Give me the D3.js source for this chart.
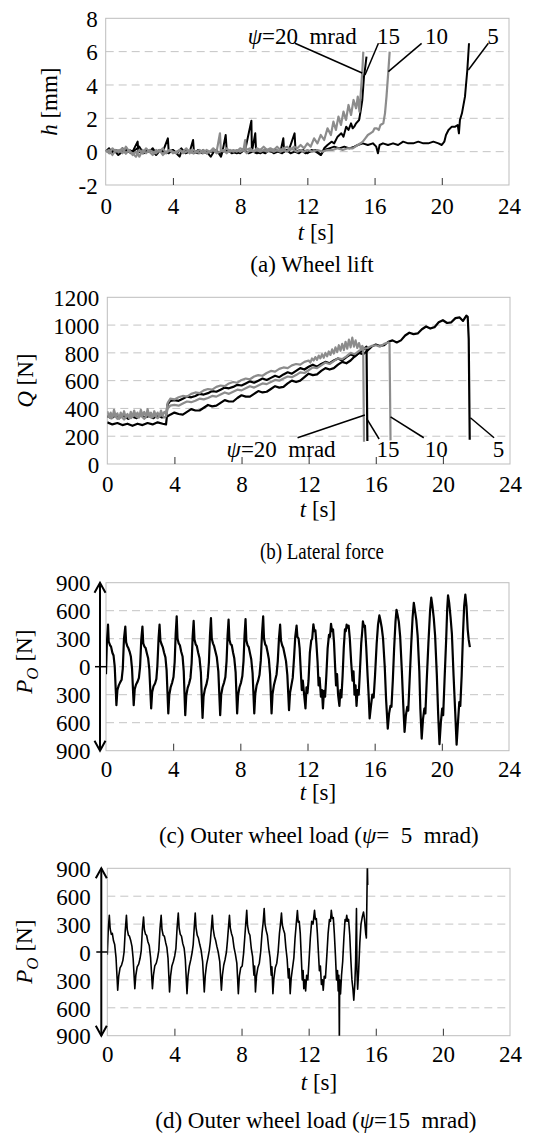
<!DOCTYPE html>
<html><head><meta charset="utf-8">
<script src="https://cdn.jsdelivr.net/npm/d3@7"></script>
<style>
body{margin:0;background:#fff}
svg text{font-family:"Liberation Serif",Tinos,"Times New Roman",Times,"DejaVu Serif",serif;font-size:23px;fill:#000}
</style></head><body>
<svg id="c" width="541" height="1133" font-family="Liberation Serif"></svg>
<script>
// ---------- DATA ----------
const xTicks = [0,4,8,12,16,20,24];
const innerTicks = [4,8,12,16,20];
const aTicks = [-2,0,2,4,6,8];
const bTicks = [0,200,400,600,800,1000,1200];
const pTicks = [-900,-600,-300,0,300,600,900];
const pTickLabels = ["900","600","300","0","300","600","900"];

// (a) wheel lift h [mm]
const lift5 = [[0,0.1],[0.25,-0.1],[0.5,0.1],[0.75,-0.2],[1.0,0],[1.25,0.1],[1.5,-0.1],[1.75,0.1],[2.0,0.3],[2.25,-0.1],[2.5,0],[2.75,0.1],[3.0,-0.2],[3.25,0.1],[3.5,0],[3.75,-0.1],[4.0,0.1],[4.25,-0.1],[4.5,0.2],[4.75,-0.1],[5.0,0],[5.25,-0.1],[5.5,0.1],[5.75,-0.1],[6.0,0],[6.25,-0.3],[6.5,0.1],[6.75,-0.1],[7.0,0],[7.25,0.1],[7.5,-0.1],[7.75,0],[8.0,-0.1],[8.25,0.1],[8.5,-0.1],[8.75,0],[9.0,-0.1],[9.25,0],[9.5,-0.1],[9.75,0.1],[10.0,-0.1],[10.25,0],[10.5,-0.1],[10.75,0.1],[11.0,-0.1],[11.25,0],[11.5,-0.1],[11.75,0.1],[12.0,-0.1],[12.25,0.1],[12.5,0],[12.8,-0.2],[13.0,0.1],[13.3,0.2],[13.6,0.3],[13.9,0.2],[14.2,0.3],[14.5,0.2],[14.8,0.3],[15.0,0.4],[15.3,0.5],[15.6,0.4],[15.9,0.5],[16.1,0.3],[16.2,-0.1],[16.3,0.4],[16.5,0.5],[16.8,0.4],[17.1,0.5],[17.4,0.4],[17.7,0.6],[18.0,0.5],[18.3,0.5],[18.6,0.6],[18.9,0.5],[19.2,0.5],[19.5,0.6],[19.8,0.5],[20.0,0.4],[20.15,0.6],[20.25,1.0],[20.4,1.3],[20.6,1.5],[20.8,1.5],[20.95,1.6],[21.02,1.1],[21.08,1.9],[21.2,2.3],[21.38,3.3],[21.52,4.9],[21.62,6.5]];
const lift15 = [[0,0],[0.2,0.2],[0.4,-0.1],[0.6,0.1],[0.8,0],[1.0,0.2],[1.2,-0.1],[1.4,0.1],[1.6,0],[1.9,0.6],[1.95,0],[2.2,-0.1],[2.4,0.1],[2.6,0],[2.8,0.2],[3.0,-0.1],[3.2,0.1],[3.4,0],[3.7,0.8],[3.75,0],[4.0,0.1],[4.2,-0.1],[4.4,-0.3],[4.5,0],[4.8,0.1],[5.0,0],[5.2,0.7],[5.25,0],[5.5,-0.1],[5.8,0.1],[6.0,-0.1],[6.3,0],[6.6,0.1],[6.86,-0.3],[6.95,0],[7.14,1.0],[7.2,0.1],[7.5,0],[7.8,-0.1],[8.0,0],[8.3,0.1],[8.67,1.86],[8.7,0],[8.9,1.1],[8.95,0],[9.2,-0.1],[9.5,0.1],[9.8,0],[10.1,0.1],[10.4,0],[10.57,0.8],[10.62,0],[10.9,0.1],[11.24,1.1],[11.3,0],[11.6,0.1],[11.9,-0.1],[12.2,0],[12.5,0.1],[12.8,-0.2],[13.0,0.2],[13.2,0.4],[13.44,0.6],[13.6,0.5],[13.8,0.9],[14.02,1.1],[14.15,0.9],[14.31,1.5],[14.45,1.3],[14.6,1.7],[14.7,1.4],[14.79,1.5],[14.9,1.7],[15.08,1.9],[15.18,2.5],[15.27,3.1],[15.37,4.5],[15.45,5.1],[15.52,5.7]];
const lift10 = [[0,0],[0.2,0.1],[0.4,-0.2],[0.6,0.1],[0.8,0],[1.0,0.2],[1.2,-0.1],[1.4,0.1],[1.6,-0.2],[1.8,0],[2.0,-0.3],[2.2,0.1],[2.4,-0.1],[2.6,0.1],[2.8,0],[3.0,-0.1],[3.2,0.1],[3.4,-0.2],[3.6,0],[3.8,0.1],[4.0,-0.1],[4.2,0],[4.4,0.1],[4.6,-0.1],[4.8,0],[5.0,0.1],[5.2,-0.1],[5.4,0],[5.6,-0.1],[5.8,0.1],[6.0,-0.1],[6.2,0],[6.4,0.1],[6.6,-0.1],[6.8,0],[7.0,0.1],[7.2,-0.1],[7.4,0.1],[7.6,0],[7.8,0.1],[8.0,0],[8.2,0.1],[8.4,-0.1],[8.6,0.1],[8.8,0],[9.0,0.1],[9.2,0],[9.4,0.1],[9.6,0],[9.8,0.1],[10.0,0],[10.2,0.1],[10.4,0],[10.6,0.1],[10.8,0],[11.0,0.2],[11.2,0.1],[11.4,0],[11.6,0.1],[11.8,0],[12.0,0.1],[12.3,0],[12.6,0.1],[12.9,0],[13.2,0.1],[13.5,0.1],[13.8,0.2],[14.1,0.1],[14.4,0.2],[14.7,0.2],[15.0,0.4],[15.17,0.5],[15.3,0.6],[15.45,0.8],[15.6,1.0],[15.75,1.1],[15.9,1.2],[16.0,1.4],[16.13,1.4],[16.25,1.3],[16.35,1.6],[16.52,1.7],[16.62,2.3],[16.71,3.3],[16.81,4.7],[16.9,6.0]];
const lift20 = [[0,0.1],[0.2,-0.1],[0.4,0.2],[0.6,0],[0.8,0.1],[1.0,-0.1],[1.2,0.3],[1.4,0],[1.6,-0.1],[1.8,-0.3],[2.0,0.1],[2.2,-0.1],[2.4,0.2],[2.6,0],[2.8,-0.2],[3.0,0.1],[3.2,0],[3.4,0.2],[3.6,-0.1],[3.8,0.1],[4.0,0],[4.2,-0.1],[4.4,0.1],[4.6,0],[4.8,0.2],[5.0,-0.1],[5.2,0.1],[5.4,0],[5.6,0.1],[5.8,-0.1],[6.0,0.1],[6.2,0],[6.4,0.2],[6.6,0],[6.8,1.1],[6.85,0.1],[7.0,0],[7.2,0.2],[7.4,0],[7.6,0.1],[7.8,0],[8.0,0.2],[8.2,0.1],[8.3,0.7],[8.35,0.1],[8.6,0.2],[8.8,0],[9.0,0.2],[9.2,0.1],[9.4,0.3],[9.6,0.1],[9.8,0.2],[10.0,0.1],[10.2,0.3],[10.4,0.1],[10.6,0.2],[10.8,0.3],[11.0,0.1],[11.2,0.3],[11.4,0.2],[11.6,0.4],[11.8,0.2],[12.0,0.5],[12.2,0.3],[12.4,0.8],[12.6,0.5],[12.8,1.0],[13.0,0.7],[13.2,1.4],[13.4,1.0],[13.55,1.8],[13.7,1.3],[13.85,2.1],[14.0,1.6],[14.15,2.4],[14.3,1.9],[14.45,2.8],[14.6,2.2],[14.75,3.1],[14.9,2.6],[15.0,3.3],[15.1,2.4],[15.2,3.8],[15.28,5.0],[15.33,6.0]];

// (b) lateral force Q [N]
const lat5 = [[0,300],[0.3,285],[0.6,295],[0.9,280],[1.2,290],[1.5,275],[1.8,290],[2.1,280],[2.4,295],[2.7,285],[3.0,300],[3.3,290],[3.5,285],[3.55,340],[3.75,355],[4.0,370],[4.25,360],[4.5,355],[4.75,375],[5.0,395],[5.25,385],[5.5,385],[5.75,405],[6.0,425],[6.25,415],[6.5,420],[6.75,440],[7.0,460],[7.25,450],[7.5,450],[7.75,475],[8.0,495],[8.25,485],[8.5,485],[8.75,505],[9.0,525],[9.25,515],[9.5,520],[9.75,540],[10.0,560],[10.25,550],[10.5,555],[10.75,580],[11.0,600],[11.25,590],[11.5,600],[11.75,625],[12.0,650],[12.25,640],[12.5,645],[12.75,670],[13.0,690],[13.25,680],[13.5,690],[13.75,715],[14.0,735],[14.25,725],[14.5,745],[14.75,775],[15.0,800],[15.25,790],[15.5,815],[15.75,845],[16.0,860],[16.25,850],[16.5,855],[16.75,880],[17.0,890],[17.25,875],[17.5,890],[17.75,925],[18.0,945],[18.25,935],[18.5,940],[18.75,970],[19.0,990],[19.25,975],[19.5,985],[19.75,1020],[20.0,1035],[20.25,1015],[20.5,1020],[20.75,1050],[21.0,1055],[21.2,1030],[21.4,1068],[21.48,1060],[21.54,900],[21.6,175]];
const lat15 = [[0,345],[0.25,330],[0.5,350],[0.75,335],[1.0,345],[1.25,325],[1.5,340],[1.75,330],[2.0,350],[2.25,335],[2.5,345],[2.75,330],[3.0,350],[3.25,335],[3.5,340],[3.6,430],[3.75,455],[4.0,460],[4.25,455],[4.5,470],[4.75,485],[5.0,480],[5.25,490],[5.5,505],[5.75,500],[6.0,510],[6.25,525],[6.5,520],[6.75,535],[7.0,550],[7.25,545],[7.5,555],[7.75,570],[8.0,565],[8.25,580],[8.5,595],[8.75,585],[9.0,600],[9.25,615],[9.5,605],[9.75,620],[10.0,635],[10.25,625],[10.5,645],[10.75,660],[11.0,650],[11.25,670],[11.5,690],[11.75,680],[12.0,700],[12.25,715],[12.5,700],[12.75,720],[13.0,735],[13.25,725],[13.5,745],[13.75,760],[14.0,745],[14.25,770],[14.5,790],[14.75,775],[15.0,800],[15.2,815],[15.4,840],[15.45,845],[15.5,165]];
const lat10 = [[0,350],[0.2,330],[0.4,355],[0.6,325],[0.8,345],[1.0,320],[1.2,350],[1.4,330],[1.6,355],[1.8,335],[2.0,350],[2.2,325],[2.4,355],[2.6,335],[2.8,350],[3.0,330],[3.2,355],[3.4,335],[3.5,345],[3.6,400],[3.75,420],[4.0,425],[4.25,420],[4.5,435],[4.75,450],[5.0,445],[5.25,455],[5.5,470],[5.75,465],[6.0,475],[6.25,490],[6.5,485],[6.75,500],[7.0,515],[7.25,505],[7.5,520],[7.75,535],[8.0,530],[8.25,545],[8.5,560],[8.75,550],[9.0,565],[9.25,580],[9.5,575],[9.75,590],[10.0,605],[10.25,600],[10.5,615],[10.75,630],[11.0,625],[11.25,640],[11.5,660],[11.75,655],[12.0,675],[12.25,695],[12.5,690],[12.75,710],[13.0,730],[13.25,720],[13.5,740],[13.75,760],[14.0,755],[14.25,775],[14.5,800],[14.75,790],[15.0,815],[15.25,830],[15.5,835],[15.75,850],[16.0,855],[16.25,845],[16.5,865],[16.75,875],[16.82,870],[16.88,170]];
const lat20 = [[0,380],[0.1,340],[0.2,370],[0.3,330],[0.4,390],[0.5,345],[0.6,365],[0.7,325],[0.8,370],[0.9,340],[1.0,380],[1.1,335],[1.2,360],[1.3,330],[1.4,375],[1.5,340],[1.6,385],[1.7,345],[1.8,370],[1.9,335],[2.0,390],[2.1,350],[2.2,375],[2.3,340],[2.4,395],[2.5,350],[2.6,370],[2.7,335],[2.8,380],[2.9,345],[3.0,370],[3.1,340],[3.2,385],[3.3,350],[3.4,375],[3.5,360],[3.6,440],[3.75,470],[4.0,465],[4.25,480],[4.5,490],[4.75,485],[5.0,505],[5.25,515],[5.5,510],[5.75,530],[6.0,540],[6.25,535],[6.5,555],[6.75,565],[7.0,560],[7.25,580],[7.5,590],[7.75,585],[8.0,605],[8.25,615],[8.5,610],[8.75,630],[9.0,640],[9.25,635],[9.5,655],[9.75,670],[10.0,665],[10.25,685],[10.5,695],[10.75,690],[11.0,710],[11.25,720],[11.5,715],[11.75,735],[12.0,745],[12.1,730],[12.2,760],[12.3,745],[12.4,770],[12.5,750],[12.6,780],[12.7,760],[12.8,790],[12.9,765],[13.0,800],[13.1,775],[13.2,810],[13.3,785],[13.4,825],[13.5,795],[13.6,840],[13.7,805],[13.8,855],[13.9,815],[14.0,865],[14.1,820],[14.2,880],[14.3,830],[14.4,895],[14.5,840],[14.6,910],[14.7,845],[14.8,890],[14.9,835],[15.0,870],[15.1,830],[15.2,850],[15.25,835],[15.3,160]];

// (c) outer wheel load P_O [N], psi = 5 mrad
const load5 = [[0,-80],[0.05,250],
[0.12,450],[0.16,270],[0.24,230],[0.3,215],[0.38,150],[0.45,120],[0.52,0],[0.62,-412],[0.68,-250],[0.76,-200],[0.85,-165],[0.93,-140],[1.0,-20],[1.07,300],
[1.15,430],[1.2,260],[1.27,220],[1.33,200],[1.41,160],[1.48,110],[1.55,-20],[1.65,-412],[1.71,-240],[1.79,-190],[1.88,-160],[1.96,-120],[2.03,0],[2.1,290],
[2.17,430],[2.22,250],[2.29,215],[2.36,200],[2.44,140],[2.51,90],[2.58,-30],[2.69,-448],[2.75,-270],[2.83,-210],[2.92,-180],[3.0,-130],[3.06,10],[3.13,300],
[3.19,450],[3.24,280],[3.31,240],[3.38,210],[3.46,150],[3.54,100],[3.61,-40],[3.71,-500],[3.77,-300],[3.85,-220],[3.94,-170],[4.02,-110],[4.09,50],[4.15,350],
[4.21,540],[4.26,300],[4.33,250],[4.4,230],[4.48,160],[4.56,110],[4.63,-50],[4.72,-519],[4.78,-310],[4.86,-230],[4.95,-180],[5.03,-120],[5.1,40],[5.16,320],
[5.22,490],[5.27,290],[5.34,240],[5.41,220],[5.49,150],[5.57,90],[5.65,-60],[5.75,-548],[5.81,-320],[5.89,-240],[5.98,-190],[6.06,-120],[6.13,50],[6.19,330],
[6.25,520],[6.3,300],[6.37,250],[6.44,220],[6.52,160],[6.6,100],[6.69,-50],[6.8,-519],[6.86,-300],[6.94,-220],[7.03,-170],[7.11,-110],[7.18,60],[7.24,330],
[7.3,505],[7.35,290],[7.42,240],[7.49,230],[7.57,150],[7.64,90],[7.72,-60],[7.81,-501],[7.87,-300],[7.95,-220],[8.04,-170],[8.12,-100],[8.19,60],[8.25,330],
[8.31,510],[8.36,280],[8.43,230],[8.5,210],[8.58,140],[8.65,80],[8.73,-70],[8.83,-501],[8.89,-290],[8.97,-200],[9.06,-150],[9.14,-90],[9.22,70],[9.29,350],
[9.36,540],[9.41,300],[9.48,240],[9.55,220],[9.63,150],[9.7,80],[9.77,-80],[9.86,-501],[9.92,-290],[10.0,-200],[10.08,-140],[10.16,-80],[10.23,60],[10.3,300],
[10.37,450],[10.42,280],[10.49,230],[10.56,200],[10.64,130],[10.72,60],[10.8,-90],[10.9,-466],[10.96,-280],[11.04,-200],[11.12,-120],[11.2,100],[11.27,320],
[11.35,440],[11.4,320],[11.47,300],[11.53,200],[11.6,-50],[11.66,-250],[11.72,-150],[11.8,-300],[11.88,-448],[11.94,-220],[12.0,-280],[12.06,-150],[12.14,150],[12.22,280],[12.28,300],
[12.35,455],[12.41,380],[12.47,390],[12.53,250],[12.6,50],[12.66,-200],[12.72,-120],[12.8,-320],[12.86,-250],[12.92,-448],[12.98,-260],[13.05,-320],[13.12,-100],[13.2,200],[13.28,340],[13.34,320],
[13.4,460],[13.46,380],[13.52,400],[13.58,260],[13.64,20],[13.7,-200],[13.76,-80],[13.82,-300],[13.9,-420],[13.96,-250],[14.02,-330],[14.09,-100],[14.16,200],[14.23,400],[14.28,380],
[14.33,450],[14.39,420],[14.45,440],[14.52,300],[14.6,50],[14.68,-150],[14.74,-50],[14.8,-300],[14.86,-200],[14.92,-420],[14.98,-250],[15.05,-300],[15.12,-50],[15.2,250],[15.26,380],
[15.3,485],[15.36,430],[15.42,440],[15.5,200],[15.58,-100],[15.64,-300],[15.7,-555],[15.78,-420],[15.86,-300],[15.94,-330],[16.02,-100],[16.12,250],[16.2,450],
[16.28,550],[16.34,500],[16.42,420],[16.5,300],[16.6,0],[16.68,-350],[16.78,-663],[16.86,-500],[16.94,-420],[17.0,-430],[17.08,-150],[17.16,200],[17.24,480],
[17.3,610],[17.36,560],[17.44,480],[17.52,320],[17.62,-50],[17.7,-400],[17.78,-699],[17.86,-520],[17.94,-430],[18.0,-470],[18.08,-150],[18.18,250],[18.26,530],
[18.33,685],[18.4,600],[18.48,500],[18.56,330],[18.66,-50],[18.72,-450],[18.8,-770],[18.88,-560],[18.96,-450],[19.02,-500],[19.1,-150],[19.2,250],[19.3,600],
[19.37,740],[19.44,650],[19.52,520],[19.6,330],[19.7,-80],[19.78,-500],[19.86,-830],[19.94,-600],[20.02,-450],[20.08,-520],[20.16,-150],[20.26,300],[20.32,620],
[20.37,765],[20.44,680],[20.52,530],[20.6,350],[20.7,-100],[20.8,-500],[20.88,-835],[20.96,-600],[21.04,-380],[21.1,-420],[21.18,-100],[21.26,350],[21.33,650],
[21.4,772],[21.47,650],[21.54,400],[21.6,290],[21.67,210]];

// (d) outer wheel load P_O [N], psi = 15 mrad
const load15 = [[0,-30],[0.06,250],
[0.12,394],[0.17,250],[0.24,190],[0.3,200],[0.37,120],[0.44,80],[0.52,-60],[0.62,-412],[0.68,-260],[0.76,-170],[0.85,-140],[0.93,-90],[1.0,0],[1.07,230],
[1.14,394],[1.19,240],[1.26,180],[1.32,170],[1.4,120],[1.47,60],[1.54,-70],[1.64,-394],[1.7,-250],[1.78,-160],[1.87,-130],[1.95,-70],[2.02,10],[2.09,240],
[2.16,376],[2.21,240],[2.28,190],[2.34,180],[2.42,110],[2.5,70],[2.58,-60],[2.69,-394],[2.75,-250],[2.83,-150],[2.92,-120],[3.0,-60],[3.07,20],[3.14,250],
[3.21,394],[3.26,240],[3.33,180],[3.4,170],[3.48,100],[3.55,50],[3.62,-70],[3.71,-430],[3.77,-260],[3.85,-150],[3.94,-100],[4.02,-40],[4.09,40],[4.16,260],
[4.23,419],[4.28,260],[4.35,190],[4.42,170],[4.5,90],[4.58,40],[4.65,-80],[4.75,-448],[4.81,-260],[4.89,-150],[4.98,-80],[5.06,0],[5.12,80],[5.18,260],
[5.24,419],[5.29,260],[5.36,180],[5.43,150],[5.51,80],[5.59,20],[5.68,-100],[5.78,-430],[5.84,-250],[5.92,-130],[6.0,-60],[6.08,20],[6.14,110],[6.2,250],
[6.26,394],[6.31,250],[6.38,170],[6.45,130],[6.53,60],[6.61,0],[6.7,-100],[6.8,-412],[6.86,-250],[6.94,-140],[7.02,-80],[7.1,0],[7.16,120],[7.22,260],
[7.28,394],[7.33,260],[7.4,200],[7.47,160],[7.55,50],[7.63,-20],[7.72,-120],[7.81,-448],[7.87,-260],[7.95,-170],[8.04,-150],[8.12,-20],[8.19,150],[8.25,300],
[8.31,448],[8.36,280],[8.43,210],[8.5,180],[8.58,40],[8.66,-50],[8.74,-250],[8.78,-150],[8.83,-430],[8.89,-260],[8.97,-170],[9.06,-120],[9.14,0],[9.22,200],[9.29,320],
[9.35,466],[9.4,300],[9.47,230],[9.54,180],[9.62,40],[9.7,-60],[9.77,-250],[9.81,-160],[9.87,-448],[9.93,-280],[10.01,-170],[10.1,-120],[10.18,0],[10.26,200],[10.32,300],
[10.38,419],[10.43,290],[10.5,240],[10.57,200],[10.64,50],[10.72,-80],[10.79,-280],[10.84,-180],[10.9,-448],[10.96,-280],[11.04,-170],[11.12,-60],[11.19,150],[11.26,300],
[11.33,445],[11.38,320],[11.44,330],[11.5,200],[11.56,-50],[11.62,-300],[11.67,-200],[11.71,-394],[11.77,-300],[11.82,-420],[11.88,-250],[11.95,-300],[12.02,-100],[12.1,150],[12.18,330],[12.26,300],
[12.35,448],[12.4,350],[12.46,360],[12.52,200],[12.58,0],[12.64,-200],[12.7,-150],[12.76,-350],[12.82,-300],[12.87,-412],[12.93,-260],[13.0,-280],[13.08,-50],[13.16,200],[13.24,350],[13.3,330],
[13.35,448],[13.41,360],[13.47,370],[13.53,200],[13.6,-50],[13.66,-300],[13.72,-200],[13.76,-420],[13.8,-250],[13.83,-950],[13.85,-300],[13.9,-450],[13.96,-250],[14.03,-100],[14.1,150],[14.17,350],[14.22,330],
[14.27,394],[14.32,330],[14.38,350],[14.45,180],[14.52,-100],[14.58,-300],[14.64,-400],[14.69,-519],[14.75,-350],[14.8,-100],[14.85,466],[14.88,-200],[14.92,-400],[14.98,-200],[15.05,100],[15.12,300],[15.2,380],
[15.27,430],[15.33,350],[15.4,200],[15.44,150],[15.5,950],[15.52,720]];

// annotation leaders: [labelText, textT, textV, fromT, fromV, toT, toV]
const annA = [["20",8.45,6.45,11.26,6.5,15.26,4.72],["15",16.15,6.45,16.23,6.5,15.43,4.6],["10",19.0,6.45,18.8,6.5,16.82,4.8],["5",22.7,6.45,22.77,6.5,21.58,4.9]];
const annB = [["20",7.11,50,11.34,189,15.35,353],["15",16.05,50,16.2,180,15.45,329],["10",18.92,50,18.86,189,16.88,340],["5",22.97,50,23.05,189,21.64,333]];

// ---------- DRAW ----------
const svg = d3.select('#c');
const BLACK = '#000', GRAY = '#8c8c8c';

function panel(o){
  const x = d3.scaleLinear().domain([0,24]).range([o.l,o.r]);
  const y = d3.scaleLinear().domain(o.yd).range([o.b,o.t]);
  const g = svg.append('g');
  g.selectAll('line.grid').data(o.grid).enter().append('line')
    .attr('x1',o.l).attr('x2',o.r).attr('y1',d=>y(d)).attr('y2',d=>y(d))
    .attr('stroke','#c4c4c4').attr('stroke-width',1).attr('stroke-dasharray','8,5');
  g.append('rect').attr('x',o.l).attr('y',o.t).attr('width',o.r-o.l).attr('height',o.b-o.t)
    .attr('fill','none').attr('stroke','#bdbdbd').attr('stroke-width',1);
  g.append('g').attr('transform',`translate(0,${o.b})`)
    .call(d3.axisTop(x).tickValues(innerTicks).tickSize(7).tickFormat(''))
    .call(s=>{s.select('.domain').remove(); s.selectAll('line').attr('stroke','#333');});
  g.append('g').attr('transform',`translate(0,${o.b})`)
    .call(d3.axisBottom(x).tickValues(xTicks).tickSize(0).tickPadding(o.xpad))
    .call(s=>{s.select('.domain').remove(); s.attr('font-size',null).attr('font-family',null);});
  g.append('g').attr('transform',`translate(${o.l},0)`)
    .call(d3.axisLeft(y).tickValues(o.yt).tickSize(0).tickPadding(o.ypad).tickFormat((d,i)=>o.ylab?o.ylab[i]:String(d)))
    .call(s=>{s.select('.domain').remove(); s.attr('font-size',null).attr('font-family',null); s.selectAll('text').attr('dy','0.36em');});
  const cid = 'clip'+o.id;
  svg.append('clipPath').attr('id',cid).append('rect').attr('x',o.l).attr('y',o.t).attr('width',o.r-o.l).attr('height',o.b-o.t);
  const line = d3.line().x(d=>x(d[0])).y(d=>y(d[1]));
  const lg = g.append('g').attr('clip-path',`url(#${cid})`);
  o.series.forEach(s=>{
    lg.append('path').datum(s.data).attr('d',line).attr('fill','none')
      .attr('stroke',s.c).attr('stroke-width',s.w).attr('stroke-linejoin','round');
  });
  return {x,y,g};
}

function xTitle(cx,by){
  const t = svg.append('text').attr('x',cx).attr('y',by).attr('text-anchor','middle').style('white-space','pre');
  t.append('tspan').attr('font-style','italic').text('t');
  t.append('tspan').text(' [s]');
}
function caption(cx,by,pre,psi,post,len){
  const t = svg.append('text').attr('x',cx).attr('y',by).attr('text-anchor','middle').style('white-space','pre');
  if(len) t.attr('textLength',len).attr('lengthAdjust','spacingAndGlyphs');
  t.append('tspan').text(pre);
  if(psi){ t.append('tspan').attr('font-style','italic').text('ψ'); t.append('tspan').text(post); }
}
function annotate(P,ann){
  ann.forEach(a=>{
    P.g.append('line').attr('x1',P.x(a[3])).attr('y1',P.y(a[4])).attr('x2',P.x(a[5])).attr('y2',P.y(a[6]))
      .attr('stroke','#000').attr('stroke-width',1.5);
    const t = P.g.append('text').attr('x',P.x(a[1])).attr('y',P.y(a[2])).style('white-space','pre');
    if(a[0]==='20'){ t.append('tspan').attr('font-style','italic').text('ψ'); t.append('tspan').text('=20  mrad'); }
    else t.text(a[0]);
  });
}
function poArrow(P){
  const ax = P.x(0)-6;
  const yt = P.y(900), yb = P.y(-900);
  P.g.append('line').attr('x1',ax).attr('x2',ax).attr('y1',yt).attr('y2',yb).attr('stroke','#000').attr('stroke-width',2);
  P.g.append('path').attr('d',`M${ax-5.5},${yt+10}L${ax},${yt}L${ax+5.5},${yt+10}`).attr('fill','none').attr('stroke','#000').attr('stroke-width',2);
  P.g.append('path').attr('d',`M${ax-5.5},${yb-10}L${ax},${yb}L${ax+5.5},${yb-10}`).attr('fill','none').attr('stroke','#000').attr('stroke-width',2);
  P.g.append('line').attr('x1',ax-5).attr('x2',P.x(0)).attr('y1',P.y(0)).attr('y2',P.y(0)).attr('stroke','#000').attr('stroke-width',1.5);
}
function poTitle(bx,cy){
  const t = svg.append('text').attr('transform',`translate(${bx},${cy}) rotate(-90)`).attr('text-anchor','middle').style('white-space','pre');
  t.append('tspan').attr('font-style','italic').text('P');
  t.append('tspan').attr('font-style','italic').attr('font-size',17).attr('dy',6).text('O');
  t.append('tspan').attr('dy',-6).text(' [N]');
}

// (a)
const PA = panel({id:'a',l:105.7,r:509,t:18.3,b:185,yd:[-2,8],yt:aTicks,grid:[0,2,4,6],xpad:13,ypad:8,
  series:[{data:lift5,c:BLACK,w:2},{data:lift15,c:BLACK,w:2},{data:lift10,c:GRAY,w:2.2},{data:lift20,c:GRAY,w:2.2}]});
annotate(PA,annA);
{ const t = svg.append('text').attr('transform','translate(57,101.7) rotate(-90)').attr('text-anchor','middle').style('white-space','pre');
  t.append('tspan').attr('font-style','italic').text('h'); t.append('tspan').text(' [mm]'); }
xTitle(316,240);
caption(312,272,'(a) Wheel lift');

// (b)
const PB = panel({id:'b',l:107.3,r:510,t:297.3,b:464,yd:[0,1200],yt:bTicks,grid:[200,400,600,800,1000],xpad:12,ypad:8,
  series:[{data:lat5,c:BLACK,w:2.2},{data:lat15,c:BLACK,w:2.2},{data:lat10,c:GRAY,w:2.2},{data:lat20,c:GRAY,w:2.2}]});
annotate(PB,annB);
{ const t = svg.append('text').attr('transform','translate(33,380.7) rotate(-90)').attr('text-anchor','middle').style('white-space','pre');
  t.append('tspan').attr('font-style','italic').text('Q'); t.append('tspan').text(' [N]'); }
xTitle(318,517);
caption(322,559,'(b) Lateral force',null,null,124);

// (c)
const PC = panel({id:'c',l:106,r:509,t:582.7,b:750.7,yd:[-900,900],yt:pTicks,ylab:pTickLabels,grid:[-600,-300,0,300,600],xpad:10,ypad:15.5,
  series:[{data:load5,c:BLACK,w:2.2}]});
poArrow(PC);
poTitle(32,661.7);
xTitle(318,800);
caption(318.8,842.5,'(c) Outer wheel load (','ψ','=  5  mrad)');

// (d)
const PD = panel({id:'d',l:107.3,r:510,t:868.3,b:1035.7,yd:[-900,900],yt:pTicks,ylab:pTickLabels,grid:[-600,-300,0,300,600],xpad:10,ypad:16.5,
  series:[{data:load15,c:BLACK,w:1.6}]});
poArrow(PD);
poTitle(32,951.7);
xTitle(319,1090);
caption(315.8,1127.5,'(d) Outer wheel load (','ψ','=15  mrad)');
</script>
</body></html>
